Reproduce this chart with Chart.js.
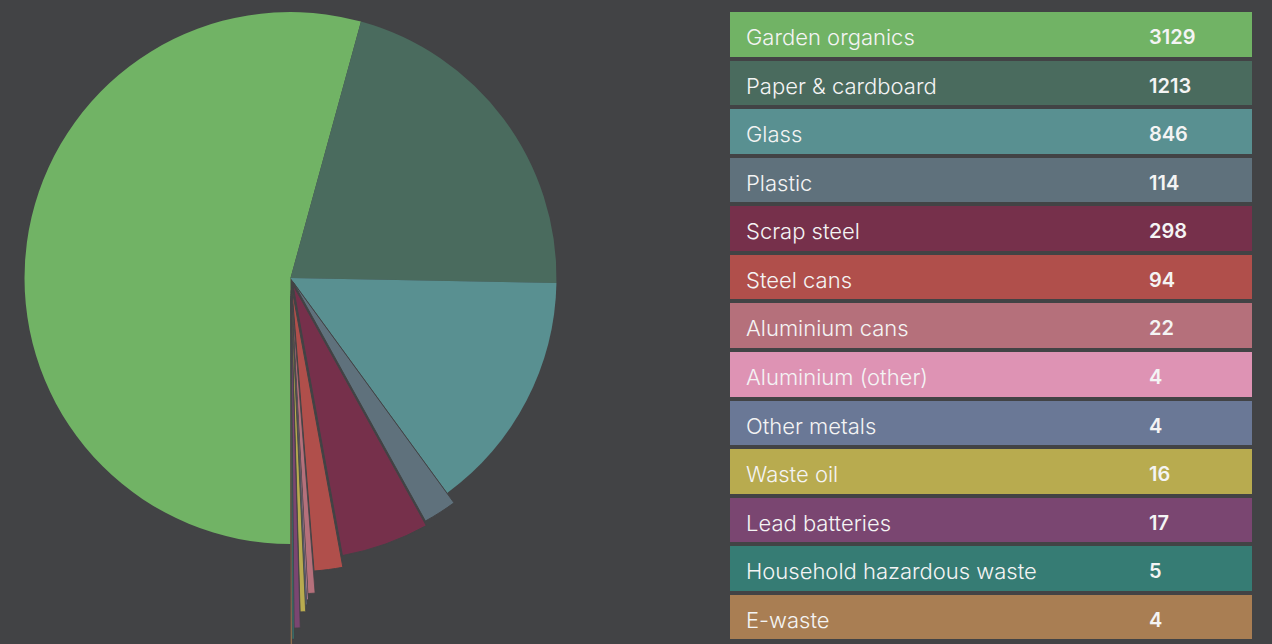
<!DOCTYPE html>
<html>
<head>
<meta charset="utf-8">
<script src="https://cdn.jsdelivr.net/npm/chart.js@4"></script>
<style>
  body { margin: 0; background: #424345; width: 1272px; height: 644px; overflow: hidden; position: relative; font-family: Inter, "Noto Sans", sans-serif; }
  #pieBox { position: absolute; left: 0; top: 0; width: 600px; height: 644px; }
  #legend { position: absolute; left: 730px; top: 12px; width: 522px; }
  .row { height: 44.5px; margin-bottom: 4.08px; position: relative; color: #f4f4f4; line-height: 44px; }
  .row .name { position: absolute; left: 16px; top: 3px; font-size: 22px; font-weight: 300; }
  .row .val { position: absolute; left: 419px; top: 3px; font-size: 20px; font-weight: 600; }
</style>
</head>
<body>
<div id="pieBox"><canvas id="Waste_Chart" width="600" height="644"></canvas></div>
<div id="legend"></div>
<script>
// Tonnes per stream
const categories = ["Garden organics", "Paper & cardboard", "Glass", "Plastic", "Scrap steel", "Steel cans",
    "Aluminium cans", "Aluminium (other)", "Other metals", "Waste oil", "Lead batteries",
    "Household hazardous waste", "E-waste"];
const tonnes = [3129, 1213, 846, 114, 298, 94, 22, 4, 4, 16, 17, 5, 4];
const colours = ["#71b365", "#4a6b5e", "#599091", "#5f717c", "#76304b", "#b04f4b", "#b5707b",
    "#de93b4", "#6a7896", "#b8ab4f", "#7a4671", "#367c74", "#a97e53"];

// legend table
let legend = document.getElementById('legend');
categories.forEach(function (name, i) {
    let row = document.createElement('div');
    row.className = 'row';
    row.style.background = colours[i];
    row.innerHTML = '<span class="name"></span><span class="val"></span>';
    row.querySelector('.name').textContent = name;
    row.querySelector('.val').textContent = tonnes[i];
    legend.appendChild(row);
});

// small slices get pulled out and stretched (fan look)
const fanOut = {
    id: 'fanOut',
    beforeDatasetDraw(chart, args, opts) {
        const area = chart.chartArea;
        const cx = (area.left + area.right) / 2;
        const cy = (area.top + area.bottom) / 2;
        args.meta.data.forEach(function (arc, i) {
            const mid = (arc.startAngle + arc.endAngle) / 2;
            const s = opts.shift[i] || 0;
            arc.x = cx + Math.cos(mid) * s;
            arc.y = cy + Math.sin(mid) * s;
            arc.outerRadius = opts.radius + (opts.grow[i] || 0);
        });
    }
};

// Pie
let pie = document.getElementById('Waste_Chart');
let waste_chart = new Chart(pie, {
    type: 'pie',
    data: {
        labels: categories,
        datasets: [{
            data: tonnes,
            backgroundColor: colours,
            borderColor: '#424345',
            borderWidth: [0, 0, 0, 1, 1, 1, 0.8, 0.5, 0.5, 0.8, 0.8, 0.5, 0.5],
            clip: false
        }]
    },
    options: {
        responsive: false,
        animation: false,
        rotation: 180,
        radius: 266,
        layout: { padding: { left: 0, right: 19, top: 0, bottom: 88 } },
        plugins: {
            legend: { display: false },
            fanOut: {
                radius: 266,
                shift: [0, 0, 0, 5, 7, 10, 12, 13, 14, 16, 18, 20, 22],
                grow: [0, 0, 0, 7, 9.5, 18, 38, 43, 47, 52, 66, 75, 85]
            }
        }
    },
    plugins: [fanOut]
});
</script>
</body>
</html>
